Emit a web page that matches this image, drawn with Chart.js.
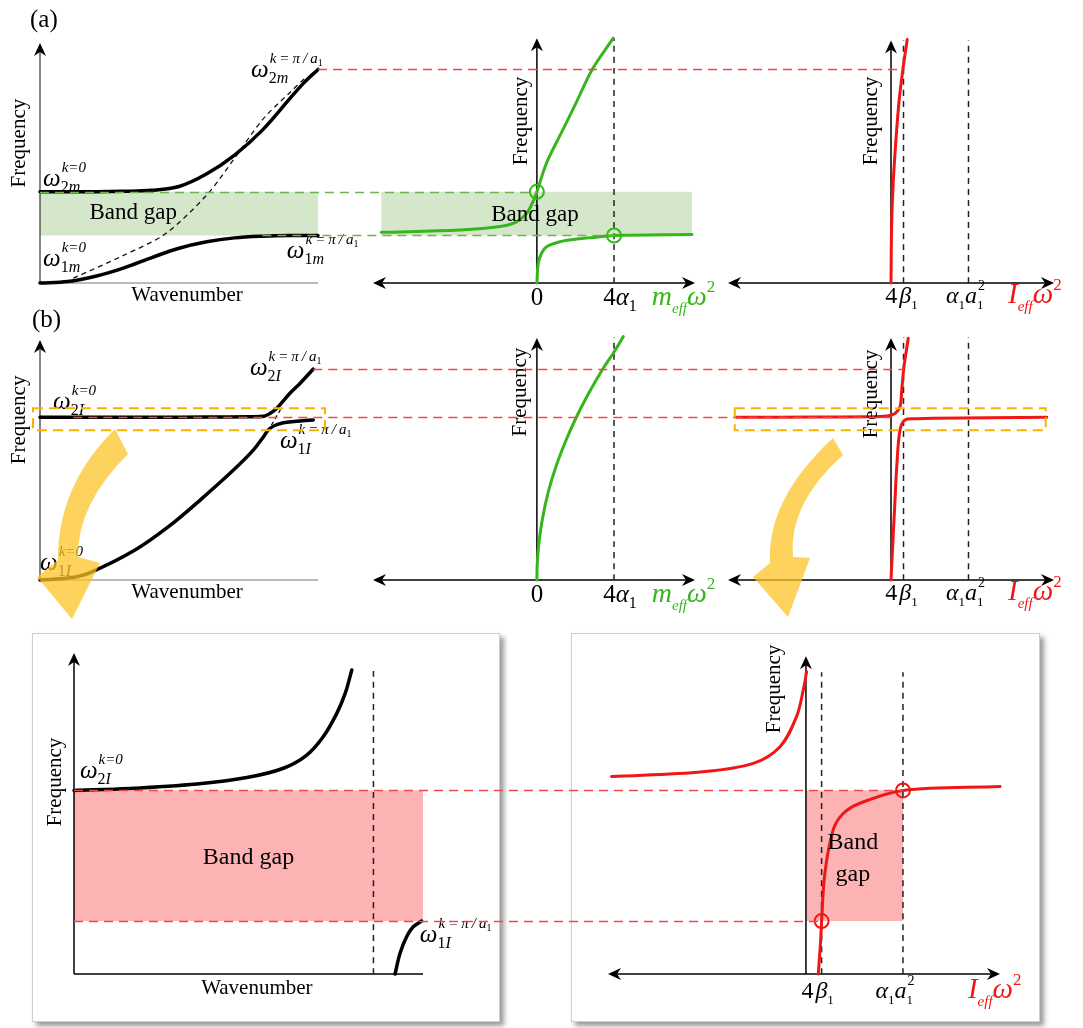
<!DOCTYPE html>
<html>
<head>
<meta charset="utf-8">
<title>Band gap schematic</title>
<script src="https://cdn.jsdelivr.net/npm/chart.js@4.4.1/dist/chart.umd.min.js"></script>
<style>
  html, body { margin: 0; padding: 0; background: #fff; }
  #stage { position: relative; width: 1083px; height: 1028px; overflow: hidden; }
  #stage canvas { position: absolute; left: 0; top: 0; }
  .box { position: absolute; background: #fff; border: 1px solid #cfcfcf; box-shadow: 4px 4px 5px rgba(0,0,0,0.4); }
</style>
</head>
<body>
<div id="stage">
  <div class="box" style="left:32px;top:633px;width:466px;height:387px"></div>
  <div class="box" style="left:571px;top:633px;width:467px;height:387px"></div>
</div>
<script>
// ---- values read off the schematic (frequency in arbitrary units) ----
// (a) dispersion, wavenumber 0..1
var kA2 = [0, 0.1, 0.2, 0.3, 0.4, 0.5, 0.6, 0.7, 0.8, 0.9, 0.95, 1.0];
var wA2 = [3.8, 3.8, 3.8, 3.82, 3.86, 4.02, 4.55, 5.33, 6.37, 7.7, 8.35, 8.9];
var kA1 = [0, 0.1, 0.2, 0.3, 0.4, 0.5, 0.6, 0.7, 0.8, 0.9, 1.0];
var wA1 = [0, 0.06, 0.28, 0.62, 1.05, 1.45, 1.72, 1.88, 1.95, 1.98, 1.98];
var kA0 = [0.12, 0.3, 0.45, 0.6, 0.7, 0.8, 0.9, 0.95];
var wA0 = [0.2, 1.15, 2.04, 3.67, 5.2, 6.8, 7.95, 8.5];
// (a) m_eff w^2 (4 alpha1 = 4)
var mUpX = [-8.07, -4.0, -1.92, -1.05, -0.53, -0.2, 0, 0.5, 1.2, 2.0, 2.87, 3.96];
var mUpW = [2.11, 2.21, 2.35, 2.55, 2.9, 3.39, 3.8, 5.0, 6.15, 7.45, 8.9, 10.2];
var mLoX = [0, 0.07, 0.24, 0.5, 1.2, 2.06, 2.92, 4.0, 8.04];
var mLoW = [0, 0.82, 1.24, 1.51, 1.72, 1.83, 1.9, 1.98, 2.02];
// (a) I_eff w^2 (4 beta1 = 1)
var iAX = [0, 0.05, 0.18, 0.4, 0.65, 0.95, 1.3];
var iAW = [0, 2.4, 4.2, 6.0, 7.6, 8.9, 10.15];

// (b) dispersion
var kB2 = [0, 0.2, 0.4, 0.6, 0.75, 0.805, 0.827, 0.851, 0.899, 0.935, 0.983];
var wB2 = [6.78, 6.78, 6.78, 6.79, 6.8, 6.82, 6.94, 7.15, 7.78, 8.19, 8.79];
var kB1 = [0, 0.1, 0.174, 0.342, 0.462, 0.576, 0.696, 0.768, 0.804, 0.827, 0.875, 0.983];
var wB1 = [0, 0.08, 0.28, 1.25, 2.22, 3.33, 4.58, 5.42, 5.97, 6.32, 6.55, 6.67];
var kB0 = [0.82, 0.865];
var wB0 = [6.2, 7.1];
var mBX = [0, 0.02, 0.1, 0.3, 0.6, 1.0, 1.5, 2.02, 2.7, 3.41, 4.0, 4.48];
var mBW = [0, 0.7, 1.5, 2.6, 3.7, 4.75, 5.8, 6.74, 7.8, 8.78, 9.5, 10.14];
var iBUpX = [-12.34, -6, -1.94, -0.34, 0.32, 0.72, 0.86, 1.04, 1.38];
var iBUpW = [6.78, 6.79, 6.8, 6.83, 6.94, 7.22, 7.92, 8.89, 10.07];
var iBLoX = [0, 0.32, 0.46, 0.72, 1.12, 2.06, 3.38, 12.46];
var iBLoW = [0, 3.33, 4.72, 6.25, 6.67, 6.72, 6.74, 6.78];

// zoomed views
var kC2 = [0, 0.16, 0.352, 0.495, 0.6, 0.667, 0.714, 0.753, 0.777, 0.796];
var wC2 = [5.72, 5.78, 5.92, 6.12, 6.41, 6.82, 7.39, 8.12, 8.74, 9.47];
var kC1 = [0.92, 0.934, 0.953, 0.972, 0.996];
var wC1 = [0, 0.64, 1.16, 1.47, 1.65];
var iCLX = [-12.42, -6.56, -3.37, -1.66, -0.6, -0.17, 0.04];
var iCLW = [6.15, 6.3, 6.56, 7.08, 8.02, 8.85, 9.42];
var iCRX = [0.79, 0.94, 1.0, 1.21, 1.74, 2.38, 3.45, 6.2, 12.4];
var iCRW = [0, 1.06, 1.65, 3.14, 4.49, 5.0, 5.32, 5.72, 5.84];

// characteristic frequencies / positions
var gapA = [1.98, 3.8];
var topA = 8.9;
var flatB = 6.78, topB = 8.79;
var gapC = [1.65, 5.72];
var kRes = 0.858;
var tick4a = 4, tick4b = 1, tickAa = 6.2;

var SERIF = '"Liberation Serif", "Times New Roman", serif';
var BLACK = '#000', GREEN = '#36b61b', RED = '#f01616';
var RED_D = '#f04848', GREEN_D = '#6fb24f';
var GREEN_BG = '#d4e7ca', RED_BG = '#fdb3b3', YEL = '#f6b400', YEL_BG = 'rgba(252,196,40,0.75)';
var W = 1083, H = 1028;
var stage = document.getElementById('stage');
var charts = {};

function pts(xs, ys) { return xs.map(function (x, i) { return { x: x, y: ys[i] }; }); }
function curve(xs, ys, color, width) {
  return { data: pts(xs, ys), showLine: true, borderColor: color, borderWidth: width || 3,
    pointRadius: 0, tension: 0.35, clip: false, borderCapStyle: 'round', borderJoinStyle: 'round' };
}
function dashed(xs, ys, color, width, dash) {
  return { data: pts(xs, ys), showLine: true, borderColor: color, borderWidth: width || 1.5,
    borderDash: dash || [6, 5], pointRadius: 0, tension: 0.3, clip: false };
}
function vdash(x, top) { return dashed([x, x], [0, top], '#222', 1.5, [6, 5]); }
function rings(xs, ys, color) {
  return { data: pts(xs, ys), showLine: false, pointRadius: 7, pointBorderWidth: 2,
    pointBorderColor: color, pointBackgroundColor: 'rgba(0,0,0,0)', clip: false };
}

function withCtx(c, fn) {
  var ctx = c.ctx;
  var X = function (v) { return c.scales.x.getPixelForValue(v); };
  var Y = function (v) { return c.scales.y.getPixelForValue(v); };
  ctx.save(); fn(ctx, X, Y, c.chartArea); ctx.restore();
}

function panel(key, box, xr, yr, datasets, deco) {
  var cv = document.createElement('canvas');
  cv.width = W; cv.height = H;
  stage.appendChild(cv);
  charts[key] = new Chart(cv, {
    type: 'scatter',
    data: { datasets: datasets },
    options: {
      responsive: false, animation: false, events: [], devicePixelRatio: 1,
      layout: { padding: { left: box[0], top: box[1], right: W - box[2], bottom: H - box[3] } },
      scales: {
        x: { type: 'linear', display: false, min: xr[0], max: xr[1] },
        y: { type: 'linear', display: false, min: yr[0], max: yr[1] }
      },
      plugins: { legend: { display: false }, tooltip: { enabled: false } }
    },
    plugins: [{
      id: 'deco_' + key,
      beforeDatasetsDraw: function (c) { if (deco.before) withCtx(c, deco.before); },
      afterDatasetsDraw: function (c) { if (deco.after) withCtx(c, deco.after); }
    }]
  });
}

// ---- drawing helpers ----
function head(ctx, x, y, ang) {
  ctx.save(); ctx.translate(x, y); ctx.rotate(ang);
  ctx.fillStyle = BLACK;
  ctx.beginPath(); ctx.moveTo(0, 0); ctx.lineTo(-6, 13); ctx.lineTo(0, 9); ctx.lineTo(6, 13); ctx.closePath(); ctx.fill();
  ctx.restore();
}
function axisY(ctx, X, Y, top, col, lw) {
  ctx.strokeStyle = col || BLACK; ctx.lineWidth = lw || 1.5;
  ctx.beginPath(); ctx.moveTo(X(0), Y(0)); ctx.lineTo(X(0), Y(top) + 8); ctx.stroke();
  head(ctx, X(0), Y(top), 0);
}
function axisX1(ctx, X, Y, col, lw) {
  ctx.strokeStyle = col; ctx.lineWidth = lw;
  ctx.beginPath(); ctx.moveTo(X(0), Y(0)); ctx.lineTo(X(1), Y(0)); ctx.stroke();
}
function axisX2(ctx, Y, a) {
  var y = Y(0);
  ctx.strokeStyle = BLACK; ctx.lineWidth = 1.5;
  ctx.beginPath(); ctx.moveTo(a.left + 8, y); ctx.lineTo(a.right - 8, y); ctx.stroke();
  head(ctx, a.left, y, -Math.PI / 2); head(ctx, a.right, y, Math.PI / 2);
}
function band(ctx, X, Y, x0, x1, f0, f1, col) {
  ctx.fillStyle = col;
  ctx.fillRect(X(x0), Y(f1), X(x1) - X(x0), Y(f0) - Y(f1));
}
function txt(ctx, s, x, y, size, color) {
  ctx.font = size + 'px ' + SERIF; ctx.fillStyle = color || BLACK;
  ctx.textAlign = 'center'; ctx.textBaseline = 'middle';
  ctx.fillText(s, x, y);
}
function vtxt(ctx, s, x, y, size) {
  ctx.save(); ctx.translate(x, y); ctx.rotate(-Math.PI / 2); txt(ctx, s, 0, 0, size); ctx.restore();
}
function lay(ctx, list, x, y, color) {
  var cx = x, mark = x, end = x;
  ctx.textAlign = 'left'; ctx.textBaseline = 'alphabetic';
  list.forEach(function (r) {
    ctx.font = (r.i ? 'italic ' : '') + r.s + 'px ' + SERIF;
    var sx = (r.st ? mark : cx) + (r.dx || 0);
    if (r.m) mark = sx;
    if (color) { ctx.fillStyle = color; ctx.fillText(r.t, sx, y + (r.dy || 0)); }
    cx = sx + ctx.measureText(r.t).width;
    end = Math.max(end, cx);
  });
  return end - x;
}
function rich(ctx, x, y, list, color, center) {
  var w = center ? lay(ctx, list, 0, 0, null) : 0;
  lay(ctx, list, center ? x - w / 2 : x, y, color || BLACK);
}
function om(n, b, pi) {
  var l = [{ t: 'ω', s: 25, i: 1 }, { t: n, s: 16, dy: 6, m: 1 }, { t: b, s: 16, i: 1, dy: 6 }];
  if (!pi) l.push({ t: 'k=0', s: 15, i: 1, dy: -14, st: 1, dx: 1 });
  else {
    l.push({ t: 'k\u2009=\u2009π\u2009/\u2009a', s: 15, i: 1, dy: -14, st: 1, dx: 1 });
    l.push({ t: '1', s: 10, dy: -11 });
  }
  return l;
}
var T0 = [{ t: '0', s: 25 }];
var T4a = [{ t: '4', s: 25 }, { t: 'α', s: 25, i: 1 }, { t: '1', s: 16, dy: 6 }];
var T4b = [{ t: '4', s: 24 }, { t: 'β', s: 24, i: 1, dx: 2 }, { t: '1', s: 13, dy: 6 }];
var Taa = [{ t: 'α', s: 24, i: 1 }, { t: '1', s: 13, dy: 6 }, { t: 'a', s: 24, i: 1 },
  { t: '1', s: 13, dy: 6, m: 1 }, { t: '2', s: 14, dy: -13, st: 1, dx: 1 }];
var Lm = [{ t: 'm', s: 28, i: 1 }, { t: 'eff', s: 15, i: 1, dy: 8 }, { t: 'ω', s: 28, i: 1 }, { t: '2', s: 17, dy: -13 }];
var LI = [{ t: 'I', s: 29, i: 1 }, { t: 'eff', s: 15, i: 1, dy: 8 }, { t: 'ω', s: 29, i: 1 }, { t: '2', s: 17, dy: -13 }];

function yellowBox(ctx, x0, x1, y) {
  ctx.strokeStyle = YEL; ctx.lineWidth = 2; ctx.setLineDash([10, 6]);
  ctx.strokeRect(x0, y - 9, x1 - x0, 22);
  ctx.setLineDash([]);
}
// curved arrow outline, points relative to the panel origin
function bigArrow(ctx, ox, oy, p) {
  function P(i) { return [ox + p[i][0], oy + p[i][1]]; }
  ctx.fillStyle = YEL_BG;
  ctx.beginPath();
  ctx.moveTo.apply(ctx, P(0));
  ctx.quadraticCurveTo(P(1)[0], P(1)[1], P(2)[0], P(2)[1]);
  ctx.lineTo.apply(ctx, P(3)); ctx.lineTo.apply(ctx, P(4)); ctx.lineTo.apply(ctx, P(5)); ctx.lineTo.apply(ctx, P(6));
  ctx.quadraticCurveTo(P(7)[0], P(7)[1], P(8)[0], P(8)[1]);
  ctx.closePath(); ctx.fill();
}

// ---- row (a) ----
panel('A1', [40, 43, 318, 283], [0, 1], [0, 10],
  [curve(kA2, wA2, BLACK, 3.5), curve(kA1, wA1, BLACK, 3.5), dashed(kA0, wA0, '#111', 1.3, [5, 4])],
  { before: function (ctx, X, Y) {
      band(ctx, X, Y, 0, 1, gapA[0], gapA[1], GREEN_BG);
      axisX1(ctx, X, Y, '#777', 1);
      axisY(ctx, X, Y, 10, '#333', 1.2);
    },
    after: function (ctx, X, Y) {
      txt(ctx, 'Band gap', X(0.335), Y(2.9), 23);
      vtxt(ctx, 'Frequency', X(-0.072), Y(5.83), 21);
      txt(ctx, 'Wavenumber', X(0.529), Y(-0.54), 21);
      rich(ctx, X(0.759), Y(8.58), om('2', 'm', 1));
      rich(ctx, X(0.011), Y(4.04), om('2', 'm', 0));
      rich(ctx, X(0.011), Y(0.71), om('1', 'm', 0));
      rich(ctx, X(0.888), Y(1.05), om('1', 'm', 1));
    } });

panel('A2', [373, 43, 695, 283], [-8.5, 8.2], [0, 10],
  [rings([0, tick4a], [gapA[1], gapA[0]], GREEN), curve(mUpX, mUpW, GREEN, 3), curve(mLoX, mLoW, GREEN, 3), vdash(tick4a, 10.2)],
  { before: function (ctx, X, Y, a) {
      band(ctx, X, Y, mUpX[0], mLoX[mLoX.length - 1], gapA[0], gapA[1], GREEN_BG);
      axisX2(ctx, Y, a);
      axisY(ctx, X, Y, 10.2);
    },
    after: function (ctx, X, Y) {
      txt(ctx, 'Band gap', X(-0.1), Y(2.85), 23);
      vtxt(ctx, 'Frequency', X(-0.78), Y(6.75), 21);
      rich(ctx, X(0), Y(-0.92), T0, BLACK, true);
      rich(ctx, X(tick4a) + 6, Y(-0.92), T4a, BLACK, true);
      rich(ctx, X(5.96), Y(-0.92), Lm, GREEN);
    } });

panel('A3', [728, 43, 1054, 283], [-13.04, 13.04], [0, 10],
  [curve(iAX, iAW, RED, 3), vdash(tick4b, 10.1), vdash(tickAa, 10.1)],
  { before: function (ctx, X, Y, a) {
      axisX2(ctx, Y, a);
      axisY(ctx, X, Y, 10.1);
    },
    after: function (ctx, X, Y) {
      vtxt(ctx, 'Frequency', X(-1.6), Y(6.75), 21);
      rich(ctx, X(tick4b) - 2, Y(-0.83), T4b, BLACK, true);
      rich(ctx, X(tickAa) - 3, Y(-0.83), Taa, BLACK, true);
      rich(ctx, X(9.36), Y(-0.83), LI, RED);
    } });

// ---- row (b) ----
panel('B1', [40, 340, 318, 580], [0, 1], [0, 10],
  [curve(kB2, wB2, BLACK, 3.5), curve(kB1, wB1, BLACK, 3.5), dashed(kB0, wB0, '#111', 1.3, [4, 3])],
  { before: function (ctx, X, Y) {
      axisX1(ctx, X, Y, '#777', 1);
      axisY(ctx, X, Y, 10, '#333', 1.2);
    },
    after: function (ctx, X, Y) {
      vtxt(ctx, 'Frequency', X(-0.072), Y(6.67), 21);
      txt(ctx, 'Wavenumber', X(0.529), Y(-0.54), 21);
      rich(ctx, X(0.047), Y(7.13), om('2', 'I', 0));
      rich(ctx, X(0.755), Y(8.54), om('2', 'I', 1));
      rich(ctx, X(0.863), Y(5.5), om('1', 'I', 1));
      rich(ctx, X(0), Y(0.42), om('1', 'I', 0));
      yellowBox(ctx, X(0) - 7, X(1) + 7, Y(flatB));
      bigArrow(ctx, X(0), Y(0), [[75, -151], [17.5, -94.5], [18, -20], [-3, -3], [32, 39], [60, -17], [38, -23], [37, -75.5], [88, -126]]);
    } });

panel('B2', [373, 340, 695, 580], [-8.5, 8.2], [0, 10],
  [curve(mBX, mBW, GREEN, 3), vdash(tick4a, 10.1)],
  { before: function (ctx, X, Y, a) {
      axisX2(ctx, Y, a);
      axisY(ctx, X, Y, 10.08);
    },
    after: function (ctx, X, Y) {
      vtxt(ctx, 'Frequency', X(-0.83), Y(7.83), 21);
      rich(ctx, X(0), Y(-0.92), T0, BLACK, true);
      rich(ctx, X(tick4a) + 6, Y(-0.92), T4a, BLACK, true);
      rich(ctx, X(5.96), Y(-0.92), Lm, GREEN);
    } });

panel('B3', [728, 340, 1054, 580], [-13.04, 13.04], [0, 10],
  [curve(iBUpX, iBUpW, RED, 3), curve(iBLoX, iBLoW, RED, 3), vdash(tick4b, 10.1), vdash(tickAa, 10.1)],
  { before: function (ctx, X, Y, a) {
      axisX2(ctx, Y, a);
      axisY(ctx, X, Y, 10.08);
    },
    after: function (ctx, X, Y) {
      vtxt(ctx, 'Frequency', X(-1.6), Y(7.75), 21);
      rich(ctx, X(tick4b) - 2, Y(-0.83), T4b, BLACK, true);
      rich(ctx, X(tickAa) - 3, Y(-0.83), Taa, BLACK, true);
      rich(ctx, X(9.36), Y(-0.83), LI, RED);
      yellowBox(ctx, X(iBUpX[0]) - 2, X(iBLoX[iBLoX.length - 1]) - 1, Y(flatB));
      bigArrow(ctx, X(0), Y(0), [[-58, -142], [-124.5, -80.5], [-121, -17], [-138, -3], [-103, 37], [-81, -22], [-98, -23], [-103, -76], [-48, -125]]);
    } });

// ---- zoomed views ----
panel('C1', [74, 653, 423, 974], [0, 1], [0, 10],
  [curve(kC2, wC2, BLACK, 3.5), curve(kC1, wC1, BLACK, 3.5), vdash(kRes, 9.5)],
  { before: function (ctx, X, Y) {
      band(ctx, X, Y, 0, 1, gapC[0], gapC[1], RED_BG);
      axisX1(ctx, X, Y, BLACK, 1.5);
      axisY(ctx, X, Y, 10);
    },
    after: function (ctx, X, Y) {
      txt(ctx, 'Band gap', X(0.5), Y(3.61), 24);
      vtxt(ctx, 'Frequency', X(-0.054), Y(5.98), 21);
      txt(ctx, 'Wavenumber', X(0.524), Y(-0.44), 21);
      rich(ctx, X(0.017), Y(6.1), om('2', 'I', 0));
      rich(ctx, X(0.991), Y(1.0), om('1', 'I', 1));
    } });

panel('C2', [608, 653, 1000, 974], [-12.65, 12.4], [0, 10],
  [rings([tick4b, tickAa], [gapC[0], gapC[1]], RED), curve(iCLX, iCLW, RED, 3), curve(iCRX, iCRW, RED, 3),
   vdash(tick4b, 9.4), vdash(tickAa, 9.4)],
  { before: function (ctx, X, Y, a) {
      band(ctx, X, Y, 0, tickAa, gapC[0], gapC[1], RED_BG);
      axisX2(ctx, Y, a);
      axisY(ctx, X, Y, 9.9);
    },
    after: function (ctx, X, Y) {
      txt(ctx, 'Band', X(3.0), Y(4.08), 24);
      txt(ctx, 'gap', X(3.0), Y(3.08), 24);
      vtxt(ctx, 'Frequency', X(-1.98), Y(8.88), 21);
      rich(ctx, X(tick4b) - 4, Y(-0.75), T4b, BLACK, true);
      rich(ctx, X(tickAa) - 8, Y(-0.75), Taa, BLACK, true);
      rich(ctx, X(10.35), Y(-0.75), LI, RED);
    } });

// ---- connectors between panels, drawn on a top layer ----
var links = [
  ['A1', 1, 'A3', 0.98, topA, RED_D],
  ['A1', 0, 'A2', 0, gapA[1], GREEN_D],
  ['A1', 0.8, 'A2', tick4a, gapA[0], GREEN_D],
  ['B1', 0.983, 'B3', 1.0, topB, RED_D],
  ['B1', 0.12, 'B3', 0, flatB, RED_D],
  ['C1', 0, 'C2', tickAa, gapC[1], RED_D],
  ['C1', 0, 'C2', tick4b, gapC[0], RED_D]
];
var ov = document.createElement('canvas');
ov.width = W; ov.height = H;
stage.appendChild(ov);
new Chart(ov, {
  type: 'scatter',
  data: { datasets: [] },
  options: {
    responsive: false, animation: false, events: [], devicePixelRatio: 1,
    scales: { x: { display: false }, y: { display: false } },
    plugins: { legend: { display: false }, tooltip: { enabled: false } }
  },
  plugins: [{
    id: 'links',
    afterDraw: function (c) {
      var ctx = c.ctx;
      ctx.save();
      ctx.lineWidth = 1.3; ctx.setLineDash([9, 6]);
      links.forEach(function (l) {
        var a = charts[l[0]], b = charts[l[2]];
        var y = Math.round(a.scales.y.getPixelForValue(l[4])) + 0.5;
        ctx.strokeStyle = l[5];
        ctx.beginPath();
        ctx.moveTo(a.scales.x.getPixelForValue(l[1]), y);
        ctx.lineTo(b.scales.x.getPixelForValue(l[3]), y);
        ctx.stroke();
      });
      ctx.setLineDash([]);
      ctx.font = '25px ' + SERIF; ctx.fillStyle = BLACK; ctx.textAlign = 'left'; ctx.textBaseline = 'alphabetic';
      ctx.fillText('(a)', 30, 27);
      ctx.fillText('(b)', 32, 327);
      ctx.restore();
    }
  }]
});
</script>
</body>
</html>
